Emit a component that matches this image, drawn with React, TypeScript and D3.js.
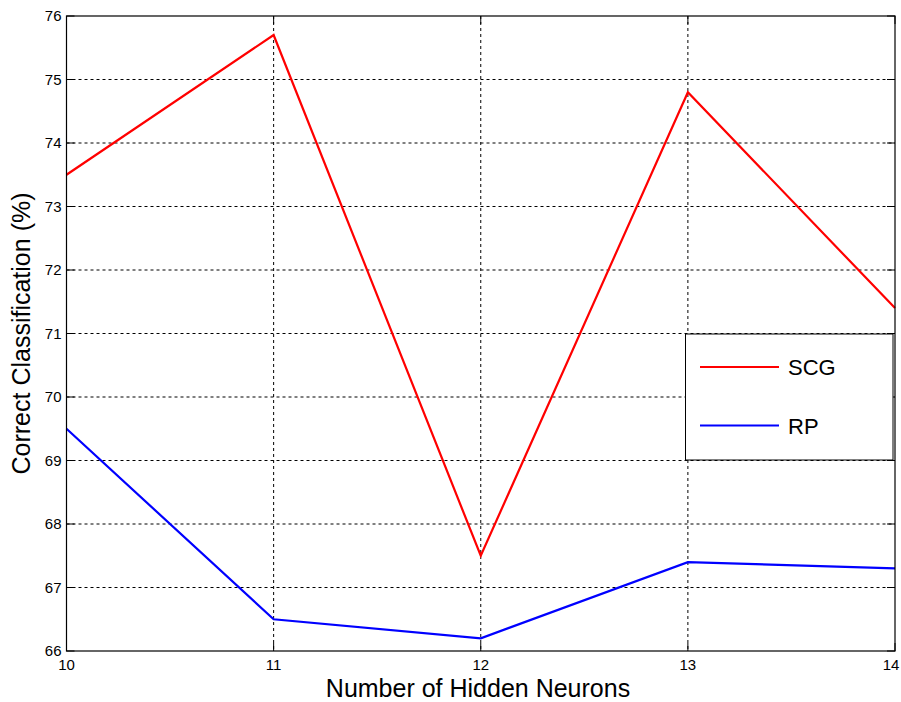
import React from "react";
import * as d3 from "d3";

const neurons = [10, 11, 12, 13, 14];
const scgValues = [73.5, 75.7, 67.5, 74.8, 71.4];
const rpValues = [69.5, 66.5, 66.2, 67.4, 67.3];
const yTicks = [66, 67, 68, 69, 70, 71, 72, 73, 74, 75, 76];
const xTicks = [10, 11, 12, 13, 14];
const seriesNames = ["SCG", "RP"];
const seriesColors = ["#ff0000", "#0000ff"];

export default function App() {
  const W = 901, H = 702;
  const L = 66.5, R = 895, T = 16, B = 651;
  const x = d3.scaleLinear().domain([10, 14]).range([L, R]);
  const y = d3.scaleLinear().domain([66, 76]).range([B, T]);
  const line = d3.line<number>().x((_, i) => x(neurons[i])).y((d) => y(d));
  const series = [scgValues, rpValues];
  const font = "'Liberation Sans', Arial, sans-serif";
  return (
    <svg width={W} height={H} style={{ position: "absolute", left: 0, top: 0, background: "#fff" }}>
      <rect x={0} y={0} width={W} height={H} fill="#fff" />
      {yTicks.slice(1, -1).map((t) => (
        <line key={"gy" + t} x1={L} x2={R} y1={y(t)} y2={y(t)} stroke="#000" strokeWidth={1} strokeDasharray="3,3" />
      ))}
      {xTicks.slice(1, -1).map((t) => (
        <line key={"gx" + t} x1={x(t)} x2={x(t)} y1={T} y2={B} stroke="#000" strokeWidth={1} strokeDasharray="3,3" />
      ))}
      {yTicks.map((t) => (
        <g key={"ty" + t}>
          <line x1={L} x2={L + 8} y1={y(t)} y2={y(t)} stroke="#000" />
          <line x1={R} x2={R - 8} y1={y(t)} y2={y(t)} stroke="#000" />
          <text x={L - 5} y={y(t) + 5} textAnchor="end" fontFamily={font} fontSize={15} fill="#000">{t}</text>
        </g>
      ))}
      {xTicks.map((t) => (
        <g key={"tx" + t}>
          <line x1={x(t)} x2={x(t)} y1={B} y2={B - 8} stroke="#000" />
          <line x1={x(t)} x2={x(t)} y1={T} y2={T + 8} stroke="#000" />
          <text x={Math.min(x(t), W - 10)} y={B + 19} textAnchor="middle" fontFamily={font} fontSize={15} fill="#000">{t}</text>
        </g>
      ))}
      {series.map((s, i) => (
        <path key={"s" + i} d={line(s) || ""} fill="none" stroke={seriesColors[i]} strokeWidth={2.2} />
      ))}
      <rect x={L} y={T} width={R - L} height={B - T} fill="none" stroke="#000" strokeWidth={1.2} />
      <rect x={685.5} y={334} width={207.5} height={126} fill="#fff" stroke="#000" strokeWidth={1} />
      {seriesNames.map((n, i) => (
        <g key={"lg" + n}>
          <line x1={700} x2={779} y1={367 + i * 58.5} y2={367 + i * 58.5} stroke={seriesColors[i]} strokeWidth={2.2} />
          <text x={788} y={367 + i * 58.5 + 8} fontFamily={font} fontSize={22} fill="#000">{n}</text>
        </g>
      ))}
      <text x={478} y={697} textAnchor="middle" fontFamily={font} fontSize={25} fill="#000">Number of Hidden Neurons</text>
      <text transform={`translate(30,${(T + B) / 2}) rotate(-90)`} textAnchor="middle" fontFamily={font} fontSize={25} fill="#000">Correct Classification (%)</text>
    </svg>
  );
}
